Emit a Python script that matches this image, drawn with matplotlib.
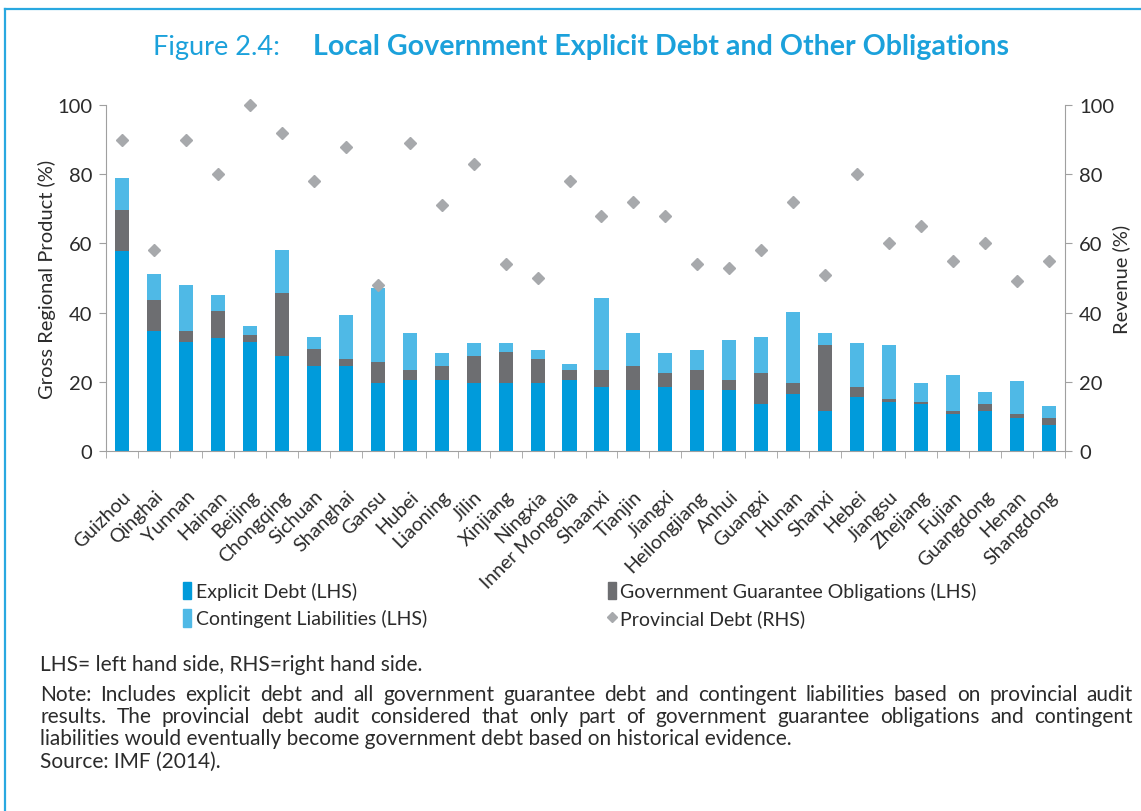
import numpy as np
import matplotlib.pyplot as plt
from matplotlib.lines import Line2D
from matplotlib.patches import Patch
from matplotlib.transforms import ScaledTranslation

plt.rcParams['font.family'] = ['Lato', 'DejaVu Sans']

provinces = ['Guizhou', 'Qinghai', 'Yunnan', 'Hainan', 'Beijing', 'Chongqing',
             'Sichuan', 'Shanghai', 'Gansu', 'Hubei', 'Liaoning', 'Jilin',
             'Xinjiang', 'Ningxia', 'Inner Mongolia', 'Shaanxi', 'Tianjin',
             'Jiangxi', 'Heilongjiang', 'Anhui', 'Guangxi', 'Hunan', 'Shanxi',
             'Hebei', 'Jiangsu', 'Zhejiang', 'Fujian', 'Guangdong', 'Henan',
             'Shangdong']

# % of gross regional product (LHS)
explicit_debt = [57.7, 34.6, 31.5, 32.6, 31.5, 27.6, 24.6, 24.6, 19.6, 20.6,
                 20.6, 19.6, 19.6, 19.6, 20.6, 18.6, 17.6, 18.6, 17.6, 17.6,
                 13.6, 16.6, 11.6, 15.6, 14.1, 13.6, 10.6, 11.6, 9.6, 7.6]
guarantee_obl = [11.9, 9.0, 3.1, 7.9, 2.1, 18.0, 5.0, 1.9, 6.1, 2.9,
                 4.0, 8.0, 9.0, 6.9, 2.9, 4.9, 7.0, 4.0, 5.9, 3.0,
                 9.0, 3.0, 19.0, 3.0, 1.0, 0.5, 1.0, 2.0, 1.0, 2.0]
contingent_liab = [9.4, 7.5, 13.4, 4.6, 2.4, 12.5, 3.4, 12.7, 21.4, 10.5,
                   3.6, 3.5, 2.5, 2.6, 1.6, 20.7, 9.4, 5.6, 5.6, 11.5,
                   10.4, 20.5, 3.4, 12.5, 15.6, 5.5, 10.5, 3.5, 9.5, 3.5]
# % of revenue (RHS)
provincial_debt = [90, 58, 90, 80, 100, 92, 78, 88, 48, 89,
                   71, 83, 54, 50, 78, 68, 72, 68, 54, 53,
                   58, 72, 51, 80, 60, 65, 55, 60, 49, 55]

c_explicit = '#009bdb'
c_guarantee = '#6d6e71'
c_contingent = '#4fb9e6'
c_diamond = '#a7a9ac'
c_spine = '#a0a0a0'
c_text = '#2b2b2b'
c_title = '#1ba1db'

W, H = 1141, 812
fig = plt.figure(figsize=(W / 100, H / 100), dpi=100)
ax = fig.add_axes([106 / W, 1 - 452 / H, (1065 - 106) / W, (452 - 106) / H])

x = np.arange(len(provinces))
bw = 0.44
e = np.array(explicit_debt)
g = np.array(guarantee_obl)
ax.bar(x, e, bw, color=c_explicit, zorder=2)
ax.bar(x, g, bw, bottom=e, color=c_guarantee, zorder=2)
ax.bar(x, contingent_liab, bw, bottom=e + g, color=c_contingent, zorder=2)

ax.set_xlim(-0.5, len(provinces) - 0.5)
ax.set_ylim(0, 100)
ax.set_yticks(range(0, 101, 20))
ax.set_xticks(x)
ax.set_xticklabels(provinces, rotation=45, ha='right', rotation_mode='anchor',
                   fontsize=14, color=c_text)
# nudge the rotated labels a little to the right
shift = ScaledTranslation(4 / 100, 0, fig.dpi_scale_trans)
for lbl in ax.get_xticklabels():
    lbl.set_transform(lbl.get_transform() + shift)
ax.set_xticks(np.arange(-0.5, len(provinces), 1), minor=True)
ax.tick_params(axis='x', which='major', length=0, pad=26)
ax.tick_params(axis='x', which='minor', length=5, color=c_spine, direction='out')
ax.tick_params(axis='y', length=5, color=c_spine, labelsize=14.5, labelcolor=c_text, pad=5)
for s in ['top', 'right']:
    ax.spines[s].set_visible(False)
for s in ['left', 'bottom']:
    ax.spines[s].set_color(c_spine)
ax.set_ylabel('Gross Regional Product (%)', fontsize=14.5, color=c_text)
ax.yaxis.set_label_coords(-0.052, 0.5)

ax2 = ax.twinx()
ax2.plot(x, provincial_debt, linestyle='none', marker='D', markersize=6.5,
         color=c_diamond, zorder=3, clip_on=False)
ax2.set_ylim(0, 100)
ax2.set_yticks(range(0, 101, 20))
ax2.tick_params(axis='y', length=5, color=c_spine, labelsize=14.5, labelcolor=c_text, pad=5)
for s in ['top', 'left', 'bottom']:
    ax2.spines[s].set_visible(False)
ax2.spines['right'].set_color(c_spine)
ax2.set_ylabel('Revenue (%)', fontsize=14.5, color=c_text)
ax2.yaxis.set_label_coords(1.049, 0.5)

# legend
handles = [Patch(color=c_explicit), Patch(color=c_contingent),
           Patch(color=c_guarantee),
           Line2D([], [], linestyle='none', marker='D', markersize=5, color=c_diamond)]
labels = ['Explicit Debt (LHS)', 'Contingent Liabilities (LHS)',
          'Government Guarantee Obligations (LHS)', 'Provincial Debt (RHS)']
fig.legend(handles, labels, loc='upper left', bbox_to_anchor=(183 / W, 1 - 583 / H),
           ncol=2, frameon=False, fontsize=14, handlelength=0.4, handleheight=1.0,
           handletextpad=0.25, columnspacing=9.3, labelspacing=0.45, borderpad=0,
           borderaxespad=0, labelcolor=c_text)

# title
fig.text(153 / W, 1 - 47 / H, 'Figure 2.4:', fontsize=19.5, color=c_title, va='center')
fig.text(313 / W, 1 - 47 / H, 'Local Government Explicit Debt and Other Obligations',
         fontsize=20.6, fontweight='bold', color=c_title, va='center')

# frame around the figure
fig.add_artist(Line2D([5 / W, 5 / W], [0, 1 - 10 / H], color='#29a8e0', lw=1.6))
fig.add_artist(Line2D([5 / W, 1], [1 - 10 / H, 1 - 10 / H], color='#29a8e0', lw=1.6))

# notes
fs_note = 15
renderer = fig.canvas.get_renderer()


def justify(line, y, x0=40, x1=1133):
    words = line.split()
    widths = []
    for w in words:
        t = fig.text(0, 0, w, fontsize=fs_note)
        widths.append(t.get_window_extent(renderer).width)
        t.remove()
    gap = (x1 - x0 - sum(widths)) / (len(words) - 1)
    xx = x0
    for w, wd in zip(words, widths):
        fig.text(xx / W, 1 - y / H, w, fontsize=fs_note, color=c_text, va='center')
        xx += wd + gap


fig.text(40 / W, 1 - 665 / H, 'LHS= left hand side, RHS=right hand side.',
         fontsize=fs_note, color=c_text, va='center')
justify('Note: Includes explicit debt and all government guarantee debt and '
        'contingent liabilities based on provincial audit', 695)
justify('results. The provincial debt audit considered that only part of government '
        'guarantee obligations and contingent', 717)
fig.text(40 / W, 1 - 739 / H, 'liabilities would eventually become government debt '
         'based on historical evidence.', fontsize=fs_note, color=c_text, va='center')
fig.text(40 / W, 1 - 762 / H, 'Source: IMF (2014).', fontsize=fs_note,
         color=c_text, va='center')

plt.savefig('out.png', dpi=100)
plt.close()
